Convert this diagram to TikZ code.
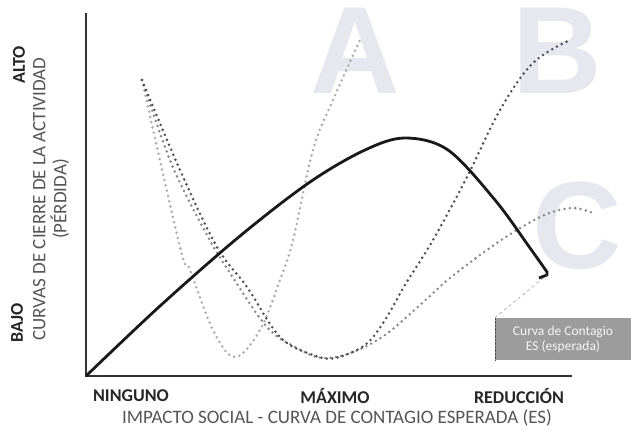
\documentclass[tikz,border=0pt]{standalone}
\usepackage{fontspec}
\setmainfont{Carlito}
\newfontfamily\bigletterfont{Liberation Sans}
\definecolor{ejes}{HTML}{333333}
\definecolor{titulo}{HTML}{555555}
\definecolor{letra}{HTML}{E7E7EF}
\definecolor{curvaA}{HTML}{ABABAB}
\definecolor{curvaB}{HTML}{4C4C58}
\definecolor{curvaC}{HTML}{888888}
\definecolor{caja}{HTML}{9C9C9C}

\begin{document}
\begin{tikzpicture}[x=1pt, y=-1pt,
  bigletter/.style={text=letra, font=\bigletterfont\bfseries\fontsize{124}{124}\selectfont, anchor=base, inner sep=0pt},
  dotcurve/.style={line width=2.8pt, line cap=round, dash pattern=on 0pt off 5.4pt},
  nivel/.style={font=\bfseries\fontsize{18}{21}\selectfont, text=black!85},
  titel/.style={font=\fontsize{19}{21}\selectfont, text=titulo},
  esbox/.style={fill=caja, text=white!90!caja, align=center, minimum width=136pt, minimum height=42pt, inner sep=0pt, font=\fontsize{13.5}{15}\selectfont}]
\useasboundingbox (0,0) rectangle (631,430);

% Buchstaben
\node[bigletter] (letA) at (355,94) {A};
\node[bigletter] (letB) at (557,94) {B};
\node[bigletter] (letC) at (577,268) {C};

% Achsen
\coordinate (origen) at (86,376);
\coordinate (ytop) at (86,13);
\coordinate (xend) at (572,376);
\draw[ejes, line width=2.4pt] (ytop) -- (origen) -- (xend);

% Kurven A, B, C
\draw[dotcurve, curvaA] plot[smooth, tension=0.6] coordinates {(142,80) (180,247) (190,270) (213,330) (235,357) (260,330) (280,280) (293,240) (313,150) (333,100) (360,40)};
\draw[dotcurve, curvaC] plot[smooth, tension=0.6] coordinates {(142,80) (172,165) (207,235) (230,273) (267,327) (297,348) (323,358) (353,352) (385,335) (420,305) (450,278) (487,250) (517,230) (547,214) (573,208) (593,213)};
\draw[dotcurve, curvaB] plot[smooth, tension=0.6] coordinates {(142,80) (180,170) (217,247) (247,287) (280,337) (313,355) (335,358) (365,345) (385,320) (405,285) (433,240) (467,177) (500,110) (533,63) (570,40)};

% Kontagion
\coordinate (finES) at (547,275);
\draw[black!90, line width=2.8pt] plot[smooth, tension=0.55] coordinates {(origen) (160,306) (240,236) (310,182) (365,150) (405,138) (448,150) (495,200) (530,248) (547,272)} -- (finES) -- (539,278);

\node[esbox] (esbox) at (563,339) {Curva de Contagio\\ES (esperada)};
\draw[gray, thin, dashed] (esbox.north west) -- (finES);
\draw[gray!60!black, densely dotted] (esbox.north west) -- (esbox.south west);

% Beschriftung
\node[nivel, rotate=90] (alto) at (19,65) {ALTO};
\node[nivel, rotate=90] (bajo) at (17,323) {BAJO};
\node[titel, rotate=90, align=center] (ytitel) at (51,199) {CURVAS DE CIERRE DE LA ACTIVIDAD\\(PÉRDIDA)};
\node[nivel] (ninguno) at (131,396) {NINGUNO};
\node[nivel] (maximo) at (335,396) {MÁXIMO};
\node[nivel] (reduccion) at (519,396) {REDUCCIÓN};
\node[titel] (xtitel) at (337,418) {IMPACTO SOCIAL - CURVA DE CONTAGIO ESPERADA (ES)};
\end{tikzpicture}
\end{document}
